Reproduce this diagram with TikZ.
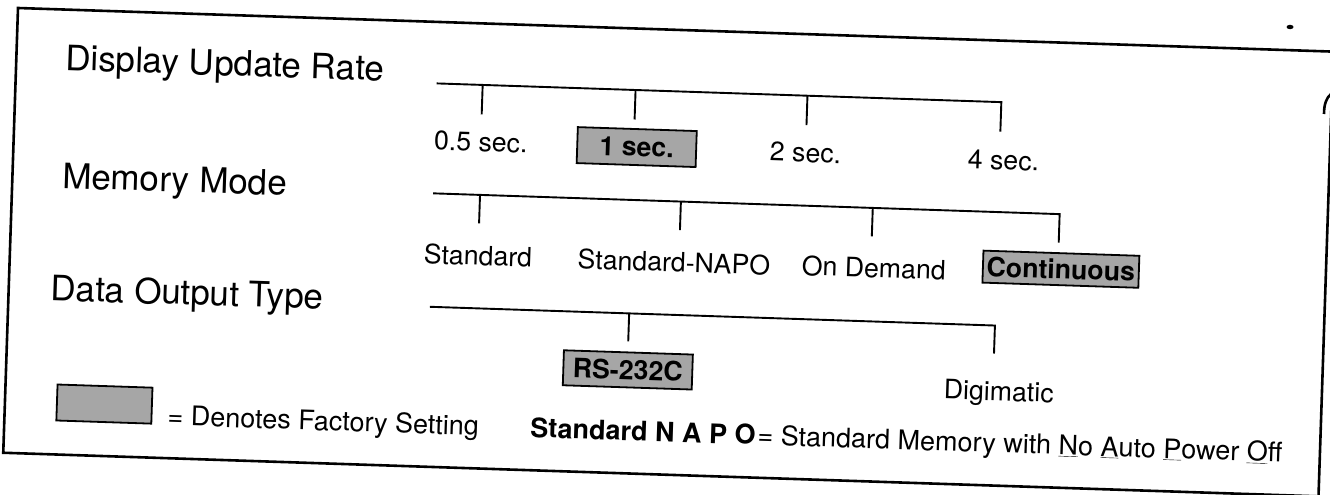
\documentclass[tikz,border=0pt]{standalone}
\usepackage{fontspec}
\setmainfont{TeX Gyre Heros}
\begin{document}
\begin{tikzpicture}[x=1pt,y=-1pt,
  frame/.style={line width=2.6pt},
  conn/.style={line width=1.9pt},
  heading/.style={font=\fontsize{35}{40}\selectfont, anchor=base west, inner sep=0pt, transform shape},
  opt/.style={font=\fontsize{26.7}{30}\selectfont, anchor=base, inner sep=0pt, transform shape},
  sel/.style={draw, line width=1.8pt, fill=black!35, font=\fontsize{26.7}{30}\selectfont\bfseries, inner sep=0pt, transform shape, anchor=center},
  note/.style={font=\fontsize{27}{30}\selectfont, anchor=base west, inner sep=0pt, transform shape}]
\useasboundingbox (0,0) rectangle (1330,495);
\fill[white] (0,0) rectangle (1330,495);
\begin{scope}[shift={(18,8)}, rotate=-1.9]
  % frame
  \draw[frame] (0,0) rectangle (1316,445);
  % headings
  \node[heading] (hdur) at (49,60.5) {Display Update Rate};
  \node[heading] (hmm) at (50,178.5) {Memory Mode};
  \node[heading] (hdot) at (42,291) {Data Output Type};
  % Display Update Rate
  \coordinate (d0) at (421,61.5);
  \coordinate (d1t) at (467,61.5); \coordinate (d1b) at (467,91);
  \coordinate (d2t) at (620,61.5); \coordinate (d2b) at (620,91);
  \coordinate (d3t) at (792,61.5); \coordinate (d3b) at (792,91);
  \coordinate (d4t) at (986,61.5); \coordinate (d4b) at (986,91);
  \draw[conn] (d0) -- (d4t) -- (d4b);
  \draw[conn] (d1t) -- (d1b);
  \draw[conn] (d2t) -- (d2b);
  \draw[conn] (d3t) -- (d3b);
  \node[opt] (o05) at (467,128) {0.5 sec.};
  \node[sel, minimum width=119pt, minimum height=36pt] (o1) at (623,118.5) {1 sec.};
  \node[opt] (o2) at (792,128) {2 sec.};
  \node[opt] (o4) at (990,129) {4 sec.};
  % Memory Mode
  \coordinate (m0) at (421,171.5);
  \coordinate (m1t) at (468,171.5); \coordinate (m1b) at (468,200);
  \coordinate (m2t) at (669,171.5); \coordinate (m2b) at (669,200);
  \coordinate (m3t) at (861,171.5); \coordinate (m3b) at (861,200);
  \coordinate (m4t) at (1048,171.5); \coordinate (m4b) at (1048,200);
  \draw[conn] (m0) -- (m4t) -- (m4b);
  \draw[conn] (m1t) -- (m1b);
  \draw[conn] (m2t) -- (m2b);
  \draw[conn] (m3t) -- (m3b);
  \node[opt] (mstd) at (468,242) {Standard};
  \node[opt] (mnapo) at (664,242) {Standard-NAPO};
  \node[opt] (mdem) at (864,241) {On Demand};
  \node[sel, minimum width=156pt, minimum height=32pt] (mcont) at (1051,226.5) {Continuous};
  % Data Output Type
  \coordinate (t0) at (421.5,285);
  \coordinate (t1t) at (621,285); \coordinate (t1b) at (621,313);
  \coordinate (t2t) at (987,285); \coordinate (t2b) at (987,313);
  \draw[conn] (t0) -- (t2t) -- (t2b);
  \draw[conn] (t1t) -- (t1b);
  \node[sel, minimum width=129pt, minimum height=35pt] (trs) at (621.5,341.5) {RS-232C};
  \node[opt] (tdig) at (993,360) {Digimatic};
  % legend
  \node[sel, minimum width=95pt, minimum height=36pt] (leg) at (99.5,393) {};
  \node[note] (legtxt) at (163,412) {= Denotes Factory Setting};
  \node[note] (napo) at (526,412) {\textbf{Standard N A P O}\hspace{2pt}= Standard Memory with \underline{N}o \underline{A}uto \underline{P}ower \underline{O}ff};
\end{scope}
% scan marks at the right edge
\fill (1290,27) ellipse (3.5 and 2.2);
\draw[line width=2.6pt] (1331,94) .. controls (1326,98) and (1324,105) .. (1324,114);
\end{tikzpicture}
\end{document}
